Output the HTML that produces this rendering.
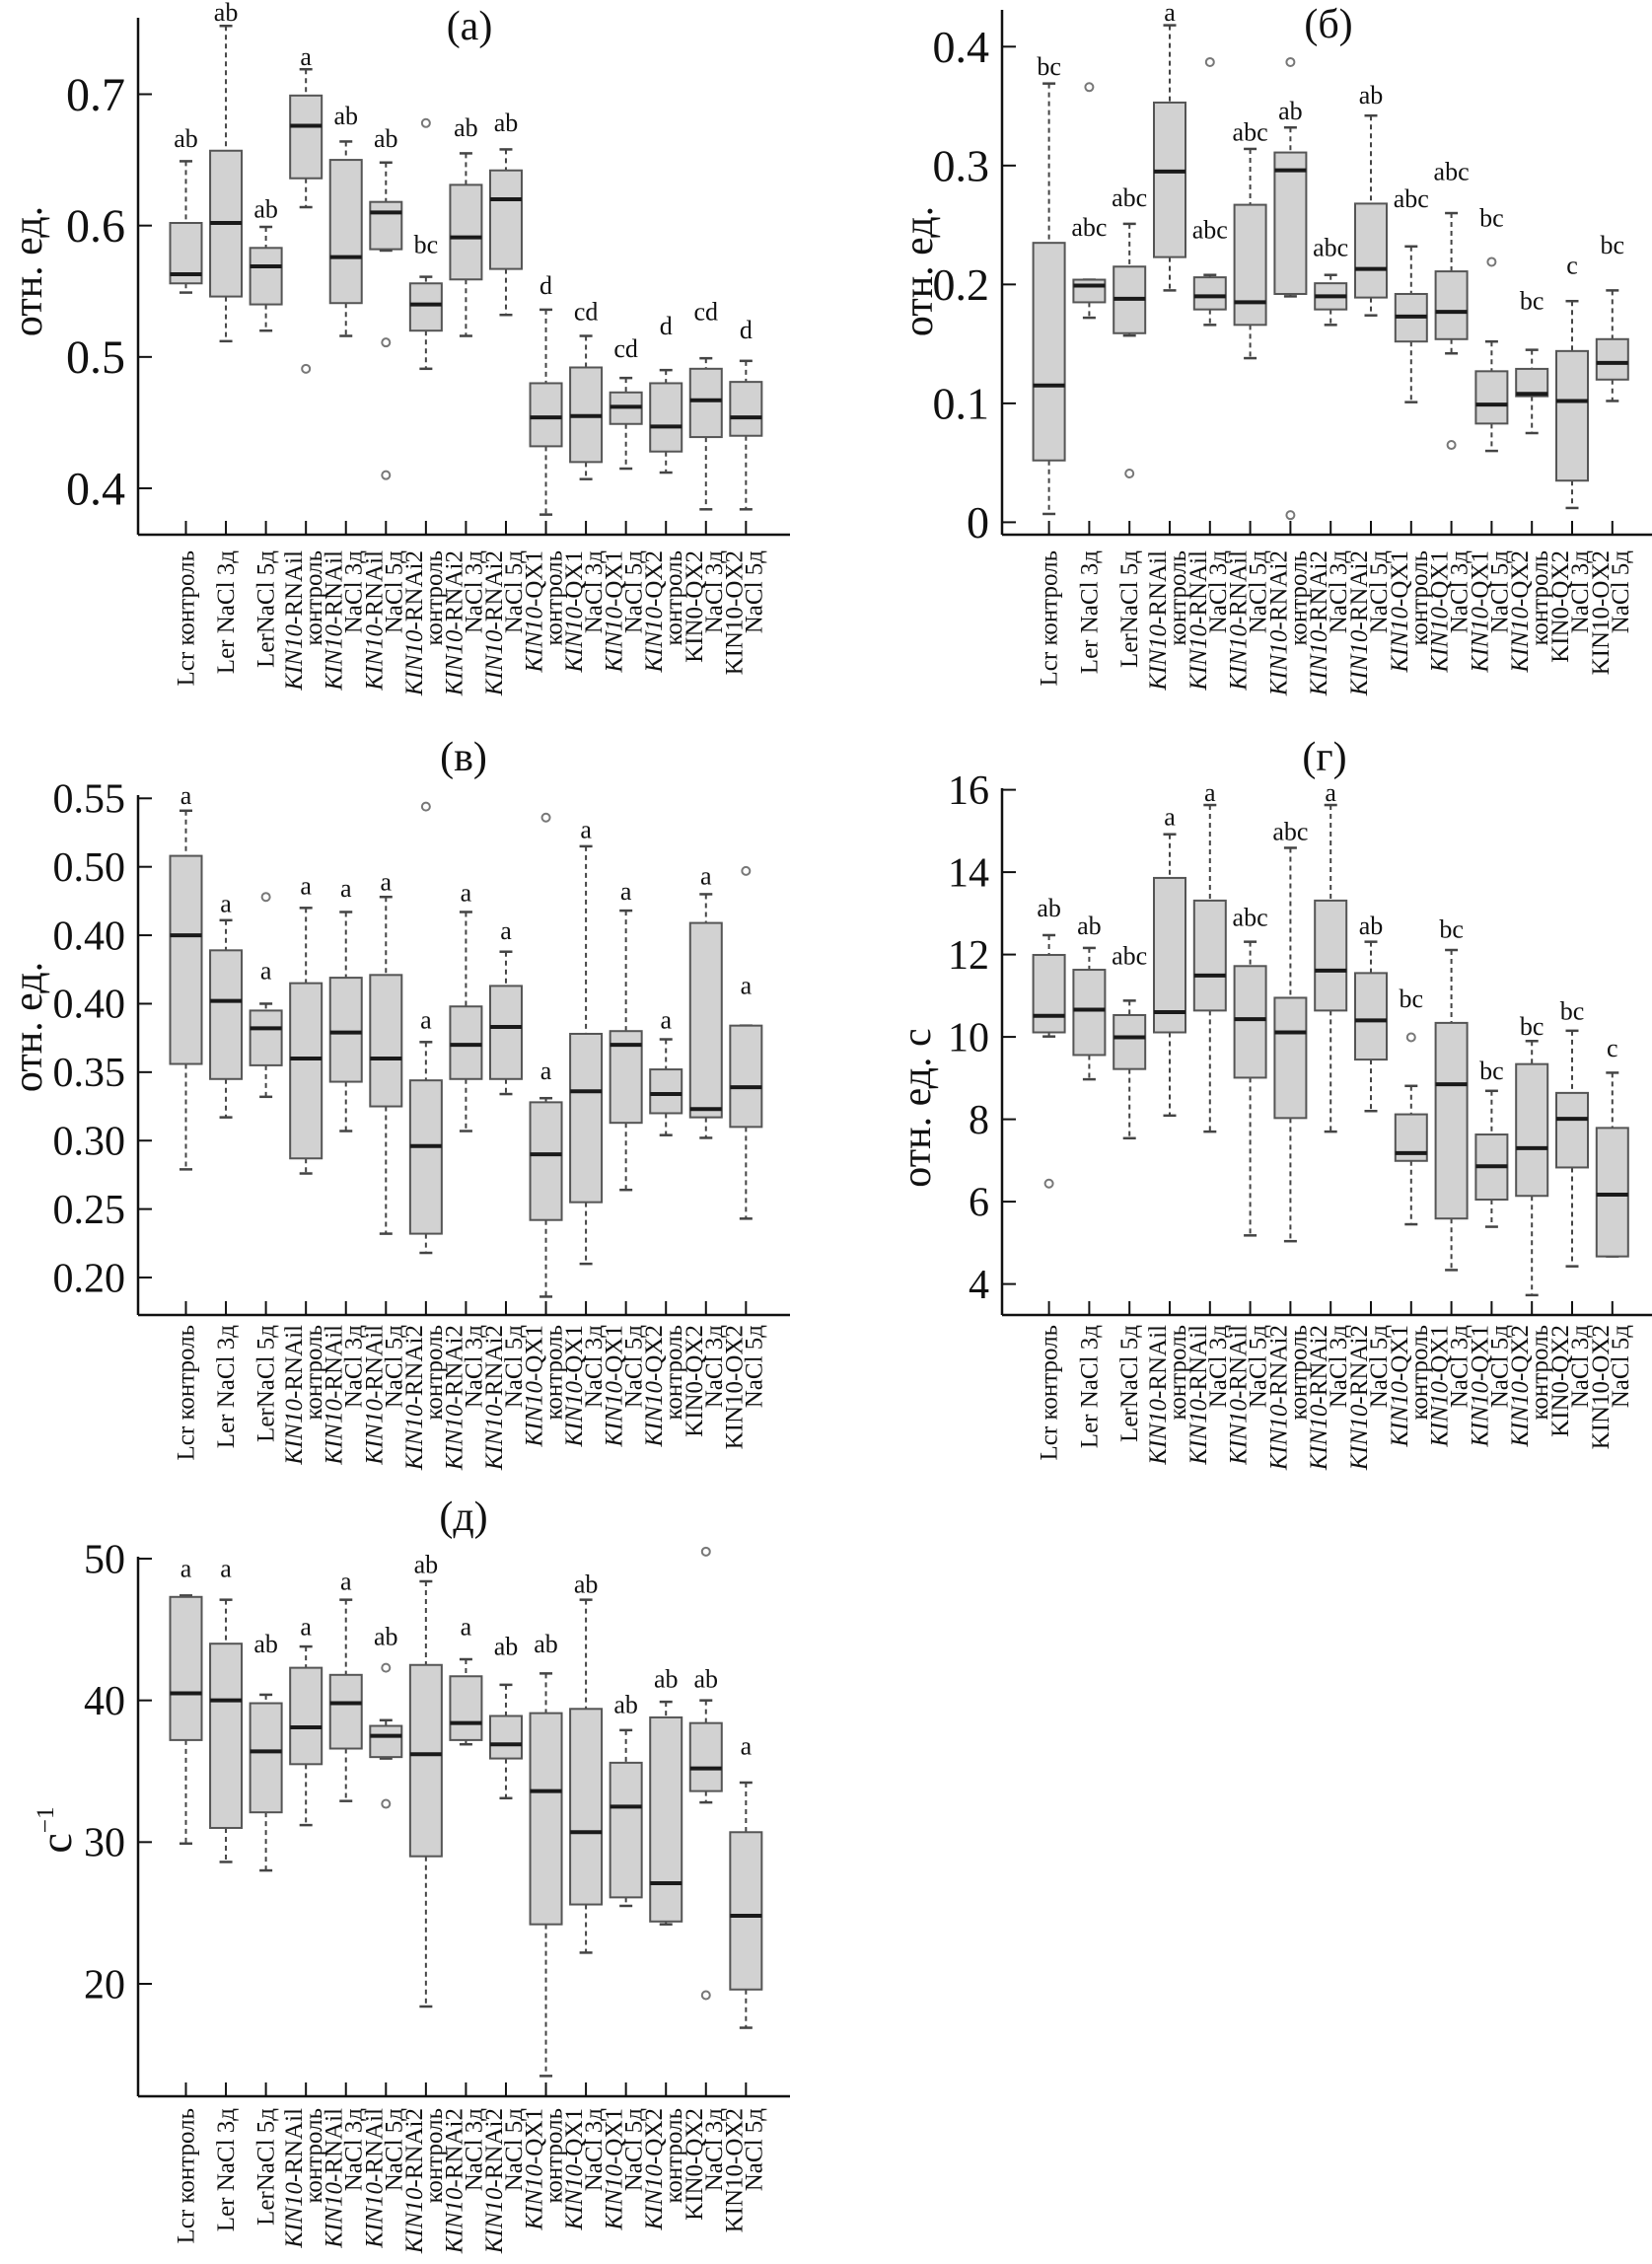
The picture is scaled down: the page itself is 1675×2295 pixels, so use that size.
<!DOCTYPE html>
<html><head><meta charset="utf-8">
<style>
html,body{margin:0;padding:0;background:#fff;}
svg{display:block;}
text{font-family:"Liberation Serif",serif;fill:#111;}
</style></head>
<body>
<svg id="fig" width="1675" height="2295" viewBox="0 0 1675 2295" xmlns="http://www.w3.org/2000/svg"></svg>
<script>
const catLine1 = ["Lcr контроль","Ler NaCl 3д","LerNaCl 5д","KIN10|-RNAil","KIN10|-RNAil","KIN10|-RNAil","KIN10|-RNAi2","KIN10|-RNAi2","KIN10|-RNAi2","KIN10|-QX1","KIN10|-QX1","KIN10|-QX1","KIN10|-QX2","KIN0-QX2","KIN10-OX2"];
const catLine2 = ["","","","контроль","NaCl 3д","NaCl 5д","контроль","NaCl 3д","NaCl 5д","контроль","NaCl 3д","NaCl 5д","контроль","NaCl 3д","NaCl 5д"];

// Panel (а)
const aLo  = [0.549,0.512,0.520,0.614,0.516,0.581,0.491,0.516,0.532,0.380,0.407,0.415,0.412,0.384,0.384];
const aQ1  = [0.556,0.546,0.540,0.636,0.541,0.582,0.520,0.559,0.567,0.432,0.420,0.449,0.428,0.439,0.440];
const aMed = [0.563,0.602,0.569,0.676,0.576,0.610,0.540,0.591,0.620,0.454,0.455,0.462,0.447,0.467,0.454];
const aQ3  = [0.602,0.657,0.583,0.699,0.650,0.618,0.556,0.631,0.642,0.480,0.492,0.473,0.480,0.491,0.481];
const aHi  = [0.649,0.752,0.599,0.719,0.664,0.648,0.561,0.655,0.658,0.536,0.516,0.484,0.490,0.499,0.497];
const aLet = ["ab","ab","ab","a","ab","ab","bc","ab","ab","d","cd","cd","d","cd","d"];
const aLetY= [0.660,0.756,0.606,0.722,0.677,0.660,0.579,0.668,0.672,0.548,0.528,0.500,0.517,0.528,0.514];
const aOutIdx = [3,5,5,6];
const aOutVal = [0.491,0.511,0.410,0.678];
const aTicks = [0.4,0.5,0.6,0.7];
const aTickLabels = ["0.4","0.5","0.6","0.7"];

// Panel (б)
const bLo  = [0.007,0.172,0.157,0.195,0.166,0.138,0.190,0.166,0.174,0.101,0.142,0.060,0.075,0.012,0.102];
const bQ1  = [0.052,0.185,0.159,0.223,0.179,0.166,0.192,0.179,0.189,0.152,0.154,0.083,0.106,0.035,0.120];
const bMed = [0.115,0.199,0.188,0.295,0.190,0.185,0.296,0.190,0.213,0.173,0.177,0.099,0.108,0.102,0.134];
const bQ3  = [0.235,0.204,0.215,0.353,0.206,0.267,0.311,0.201,0.268,0.192,0.211,0.127,0.129,0.144,0.154];
const bHi  = [0.369,0.204,0.251,0.418,0.208,0.314,0.332,0.208,0.342,0.232,0.260,0.152,0.145,0.186,0.195];
const bLet = ["bc","abc","abc","a","abc","abc","ab","abc","ab","abc","abc","bc","bc","c","bc"];
const bLetY= [0.376,0.241,0.266,0.422,0.239,0.321,0.339,0.224,0.352,0.265,0.288,0.249,0.179,0.209,0.226];
const bOutIdx = [1,2,4,6,6,10,11];
const bOutVal = [0.366,0.041,0.387,0.006,0.387,0.065,0.219];
const bTicks = [0,0.1,0.2,0.3,0.4];
const bTickLabels = ["0","0.1","0.2","0.3","0.4"];

// Panel (в)
const cLo  = [0.279,0.317,0.332,0.276,0.307,0.232,0.218,0.307,0.334,0.186,0.210,0.264,0.304,0.302,0.243];
const cQ1  = [0.356,0.345,0.355,0.287,0.343,0.325,0.232,0.345,0.345,0.242,0.255,0.313,0.320,0.317,0.310];
const cMed = [0.450,0.402,0.382,0.360,0.379,0.360,0.296,0.370,0.383,0.290,0.336,0.370,0.334,0.323,0.339];
const cQ3  = [0.508,0.439,0.395,0.415,0.419,0.421,0.344,0.398,0.413,0.328,0.378,0.380,0.352,0.459,0.384];
const cHi  = [0.541,0.461,0.400,0.470,0.467,0.478,0.372,0.467,0.438,0.331,0.515,0.468,0.374,0.480,0.384];
const cLet = ["a","a","a","a","a","a","a","a","a","a","a","a","a","a","a"];
const cLetY= [0.546,0.467,0.418,0.480,0.478,0.483,0.382,0.475,0.447,0.345,0.521,0.476,0.382,0.487,0.407];
const cOutIdx = [2,6,9,14];
const cOutVal = [0.478,0.544,0.536,0.497];
const cTicks = [0.20,0.25,0.30,0.35,0.40,0.45,0.50,0.55];
const cTickLabels = ["0.20","0.25","0.30","0.35","0.40","0.40","0.50","0.55"];

// Panel (г)
const dLo  = [10.01,8.97,7.54,8.09,7.70,5.18,5.04,7.70,8.20,5.45,4.34,5.39,3.73,4.43,4.67];
const dQ1  = [10.11,9.56,9.22,10.11,10.64,9.01,8.03,10.64,9.45,6.99,5.59,6.05,6.14,6.83,4.67];
const dMed = [10.51,10.66,9.99,10.60,11.49,10.43,10.11,11.61,10.40,7.18,8.85,6.86,7.30,8.01,6.17];
const dQ3  = [11.99,11.63,10.53,13.86,13.31,11.72,10.95,13.31,11.55,8.12,10.34,7.63,9.34,8.64,7.79];
const dHi  = [12.47,12.16,10.88,14.92,15.63,12.31,14.59,15.63,12.31,8.81,12.11,8.69,9.90,10.15,9.13];
const dLet = ["ab","ab","abc","a","a","abc","abc","a","ab","bc","bc","bc","bc","bc","c"];
const dLetY= [12.92,12.49,11.76,15.14,15.73,12.70,14.78,15.73,12.49,10.72,12.41,8.97,10.05,10.42,9.52];
const dOutIdx = [0,9];
const dOutVal = [6.44,9.99];
const dTicks = [4,6,8,10,12,14,16];
const dTickLabels = ["4","6","8","10","12","14","16"];

// Panel (д)
const eLo  = [29.9,28.6,28.0,31.2,32.9,35.9,18.4,36.9,33.1,13.5,22.2,25.5,24.2,32.8,16.9];
const eQ1  = [37.2,31.0,32.1,35.5,36.6,36.0,29.0,37.2,35.9,24.2,25.6,26.1,24.4,33.6,19.6];
const eMed = [40.5,40.0,36.4,38.1,39.8,37.5,36.2,38.4,36.9,33.6,30.7,32.5,27.1,35.2,24.8];
const eQ3  = [47.3,44.0,39.8,42.3,41.8,38.2,42.5,41.7,38.9,39.1,39.4,35.6,38.8,38.4,30.7];
const eHi  = [47.4,47.1,40.4,43.8,47.1,38.6,48.4,42.9,41.1,41.9,47.1,37.9,39.9,40.0,34.2];
const eLet = ["a","a","ab","a","a","ab","ab","a","ab","ab","ab","ab","ab","ab","a"];
const eLetY= [48.7,48.7,43.4,44.6,47.8,43.9,49.0,44.6,43.2,43.4,47.6,39.1,40.9,40.9,36.2];
const eOutIdx = [5,5,13,13];
const eOutVal = [42.3,32.7,50.5,19.2];
const eTicks = [20,30,40,50];
const eTickLabels = ["20","30","40","50"];

const NS = "http://www.w3.org/2000/svg";
const svg = document.getElementById("fig");
function mk(tag, attrs, parent){
  const e = document.createElementNS(NS, tag);
  for (const k in attrs) e.setAttribute(k, attrs[k]);
  (parent||svg).appendChild(e);
  return e;
}

function drawPanel(P){
  const g = mk("g", {});
  
  
  const ys = v => P.p0 + (v - P.v0) * (P.p1 - P.p0) / (P.v1 - P.v0);
  const xs = i => P.c0 + i * P.step;

  const yax = mk("line", {x1:P.ax, y1:P.top, x2:P.ax, y2:P.bottom, stroke:"#111","stroke-width":2.5}, g);
  
  
  const xax = mk("line", {x1:P.ax, y1:P.bottom, x2:P.right, y2:P.bottom, stroke:"#111","stroke-width":2.5}, g);
  
  

  P.ticks.forEach((t, k) => {
    const y = ys(t);
    const tl = mk("line", {x1:P.ax, y1:y, x2:P.ax+14, y2:y, stroke:"#111","stroke-width":2}, g);
    
    
    const tx = mk("text", {x:P.ax-13, y:y + P.tickFs*0.34, "text-anchor":"end", "font-size":P.tickFs}, g);
    tx.textContent = P.tickLabels[k];
    
    
  });

  const yt = mk("text", {x:0, y:0, "text-anchor":"middle", "font-size":P.yFs, transform:`translate(${P.ytx},${P.yty}) rotate(-90)`}, g);
  yt.textContent = P.ytitle;
  if (P.sup) {
    const sp = mk("tspan", {dy:-18, "font-size":P.yFs*0.55}, yt);
    sp.textContent = P.sup;
  }
  
  

  const tt = mk("text", {x:P.tx, y:P.ty, "text-anchor":"middle", "font-size":42}, g);
  tt.textContent = P.title;
  
  

  const bw = 32, cw = 13;
  const lf = 25;
  for (let i = 0; i < P.med.length; i++){
    const x = xs(i);
    const bg = mk("g", {}, g);
    
    
    const xt = mk("line", {x1:x, y1:P.bottom, x2:x, y2:P.bottom-14, stroke:"#111","stroke-width":2}, bg);
    
    
    const w1 = mk("line", {x1:x, y1:ys(P.hi[i]), x2:x, y2:ys(P.q3[i]), stroke:"#444","stroke-width":2,"stroke-dasharray":"5,4"}, bg);
    
    
    const w2 = mk("line", {x1:x, y1:ys(P.q1[i]), x2:x, y2:ys(P.lo[i]), stroke:"#444","stroke-width":2,"stroke-dasharray":"5,4"}, bg);
    
    
    const c1 = mk("line", {x1:x-cw/2, y1:ys(P.hi[i]), x2:x+cw/2, y2:ys(P.hi[i]), stroke:"#444","stroke-width":2.5}, bg);
    
    
    const c2 = mk("line", {x1:x-cw/2, y1:ys(P.lo[i]), x2:x+cw/2, y2:ys(P.lo[i]), stroke:"#444","stroke-width":2.5}, bg);
    
    
    const r = mk("rect", {x:x-bw/2, y:ys(P.q3[i]), width:bw, height:Math.max(1, ys(P.q1[i]) - ys(P.q3[i])), fill:"#d2d2d2", stroke:"#555","stroke-width":2}, bg);
    
    
    const m = mk("line", {x1:x-bw/2, y1:ys(P.med[i]), x2:x+bw/2, y2:ys(P.med[i]), stroke:"#1a1a1a","stroke-width":4}, bg);
    
    
    const lt = mk("text", {x:x, y:ys(P.letY[i]), "text-anchor":"middle", "font-size":26}, bg);
    lt.textContent = P.letters[i];
    
    

    const lg = mk("g", {transform:`translate(${x},${P.bottom+P.labOff}) rotate(-90)`}, g);
    
    
    const two = !!catLine2[i];
    const t1 = mk("text", {x:0, y: two ? -4 : 8, "text-anchor":"end", "font-size":lf}, lg);
    const parts = catLine1[i].split("|");
    if (parts.length > 1){
      const it = mk("tspan", {"font-style":"italic"}, t1);
      it.textContent = parts[0];
      const rest = mk("tspan", {}, t1);
      rest.textContent = parts[1];
    } else {
      t1.textContent = parts[0];
    }
    if (two) {
      const t2 = mk("text", {x:0, y:16, "text-anchor":"end", "font-size":lf}, lg);
      t2.textContent = catLine2[i];
    }
  }
  P.outIdx.forEach((idx, k) => {
    const o = mk("circle", {cx:xs(idx), cy:ys(P.outVal[k]), r:4, fill:"none", stroke:"#777","stroke-width":2}, g);
    
    
  });
}

const LEFT = {ax:140, c0:188.5, step:40.56, right:801};
const RIGHT = {ax:1016, c0:1063.6, step:40.8, right:1675};

drawPanel(Object.assign({}, LEFT, {name:"panel-a", top:18, bottom:542, v0:0.4, p0:495, v1:0.7, p1:95.5,
  ticks:aTicks, tickLabels:aTickLabels, tickFs:48, lo:aLo, q1:aQ1, med:aMed, q3:aQ3, hi:aHi,
  letters:aLet, letY:aLetY, outIdx:aOutIdx, outVal:aOutVal, title:"(a)", tx:476, ty:40,
  ytitle:"отн. ед.", ytx:42, yty:275, yFs:42, labOff:16}));

drawPanel(Object.assign({}, RIGHT, {name:"panel-b", top:10, bottom:542, v0:0, p0:529.4, v1:0.4, p1:47.3,
  ticks:bTicks, tickLabels:bTickLabels, tickFs:46, lo:bLo, q1:bQ1, med:bMed, q3:bQ3, hi:bHi,
  letters:bLet, letY:bLetY, outIdx:bOutIdx, outVal:bOutVal, title:"(б)", tx:1347, ty:38,
  ytitle:"отн. ед.", ytx:945, yty:275, yFs:42, labOff:16}));

drawPanel(Object.assign({}, LEFT, {name:"panel-v", top:806, bottom:1333, v0:0.20, p0:1295, v1:0.55, p1:809.3,
  ticks:cTicks, tickLabels:cTickLabels, tickFs:42, lo:cLo, q1:cQ1, med:cMed, q3:cQ3, hi:cHi,
  letters:cLet, letY:cLetY, outIdx:cOutIdx, outVal:cOutVal, title:"(в)", tx:470, ty:781,
  ytitle:"отн. ед.", ytx:42, yty:1041, yFs:42, labOff:10}));

drawPanel(Object.assign({}, RIGHT, {name:"panel-g", top:799, bottom:1333, v0:4, p0:1301.6, v1:16, p1:800.6,
  ticks:dTicks, tickLabels:dTickLabels, tickFs:42, lo:dLo, q1:dQ1, med:dMed, q3:dQ3, hi:dHi,
  letters:dLet, letY:dLetY, outIdx:dOutIdx, outVal:dOutVal, title:"(г)", tx:1343, ty:781,
  ytitle:"отн. ед. с", ytx:943, yty:1123, yFs:42, labOff:10}));

drawPanel(Object.assign({}, LEFT, {name:"panel-d", top:1578, bottom:2125, v0:20, p0:2011, v1:50, p1:1580,
  ticks:eTicks, tickLabels:eTickLabels, tickFs:42, lo:eLo, q1:eQ1, med:eMed, q3:eQ3, hi:eHi,
  letters:eLet, letY:eLetY, outIdx:eOutIdx, outVal:eOutVal, title:"(д)", tx:470, ty:1551,
  ytitle:"c", sup:"−1", ytx:72, yty:1855, yFs:46, labOff:12}));
</script>
</body></html>
